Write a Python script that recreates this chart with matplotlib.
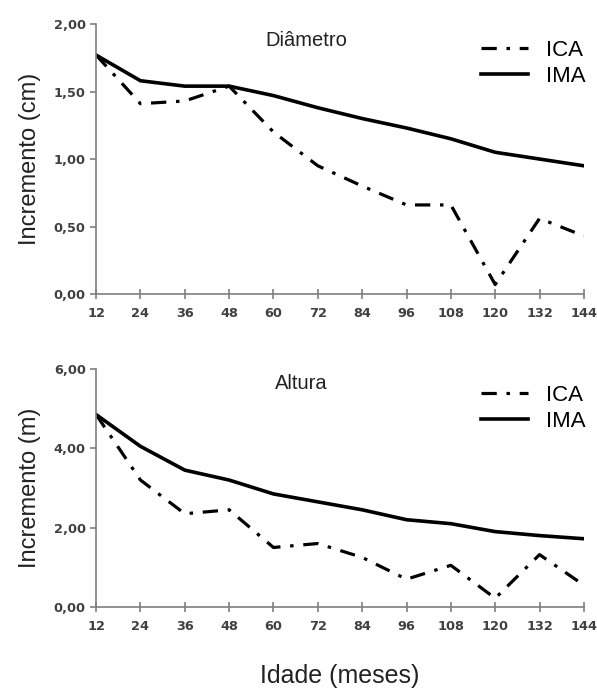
import matplotlib.pyplot as plt

plt.rcParams['font.family'] = ['Liberation Sans', 'DejaVu Sans']
plt.rcParams['lines.scale_dashes'] = False

idade = [12, 24, 36, 48, 60, 72, 84, 96, 108, 120, 132, 144]

diam_ica = [1.77, 1.41, 1.43, 1.54, 1.20, 0.95, 0.80, 0.66, 0.66, 0.07, 0.56, 0.43]
diam_ima = [1.77, 1.58, 1.54, 1.54, 1.47, 1.38, 1.30, 1.23, 1.15, 1.05, 1.00, 0.95]

alt_ica = [4.85, 3.20, 2.35, 2.45, 1.50, 1.60, 1.25, 0.70, 1.05, 0.22, 1.32, 0.55]
alt_ima = [4.85, 4.05, 3.45, 3.20, 2.85, 2.65, 2.45, 2.20, 2.10, 1.90, 1.80, 1.72]

ytick_diam = [0.0, 0.5, 1.0, 1.5, 2.0]
ytick_alt = [0.0, 2.0, 4.0, 6.0]

fig = plt.figure(figsize=(5.97, 6.91), dpi=100)
ax1 = fig.add_axes([0.161, 0.5745, 0.817, 0.3907])
ax2 = fig.add_axes([0.161, 0.1216, 0.817, 0.3444])

dashdot = (0, (11, 7, 2.5, 7))
axcolor = '#7f7f7f'
tickcolor = '#404040'


def draw(ax, ica, ima, yticks, ylabel, title, tx, ty):
  ax.plot(idade, ica, color='black', lw=2.3, linestyle=dashdot, label='ICA')
  ax.plot(idade, ima, color='black', lw=2.6, label='IMA')
  ax.set_xlim(12, 144)
  ax.set_ylim(yticks[0], yticks[-1])
  ax.set_xticks(idade)
  ax.set_yticks(yticks)
  ax.set_yticklabels([('%.2f' % v).replace('.', ',') for v in yticks])
  for s in ['top', 'right']:
    ax.spines[s].set_visible(False)
  for s in ['left', 'bottom']:
    ax.spines[s].set_color(axcolor)
    ax.spines[s].set_linewidth(1.2)
  ax.tick_params(axis='both', colors=axcolor, width=1.2, length=4)
  ax.tick_params(axis='x', direction='inout', length=7, pad=6)
  for lab in ax.get_xticklabels() + ax.get_yticklabels():
    lab.set_color(tickcolor)
    lab.set_fontweight('bold')
    lab.set_fontsize(9.3)
    lab.set_family('DejaVu Sans')
  ax.set_ylabel(ylabel, fontsize=17, color='#222222', labelpad=9)
  ax.text(tx, ty, title, transform=ax.transAxes, fontsize=14.5,
          ha='center', va='center', color='#222222')
  ax.legend(loc='upper right', bbox_to_anchor=(1.035, 1.0), frameon=False,
            fontsize=16, handlelength=2.1, handletextpad=0.8,
            labelspacing=0.25, borderaxespad=0.3)


draw(ax1, diam_ica, diam_ima, ytick_diam, 'Incremento (cm)', 'Diâmetro', 0.43, 0.94)
draw(ax2, alt_ica, alt_ima, ytick_alt, 'Incremento (m)', 'Altura', 0.42, 0.94)

ax2.set_xlabel('Idade (meses)', fontsize=18, color='#222222', labelpad=22)

fig.savefig('out.png', dpi=100, facecolor='white')
